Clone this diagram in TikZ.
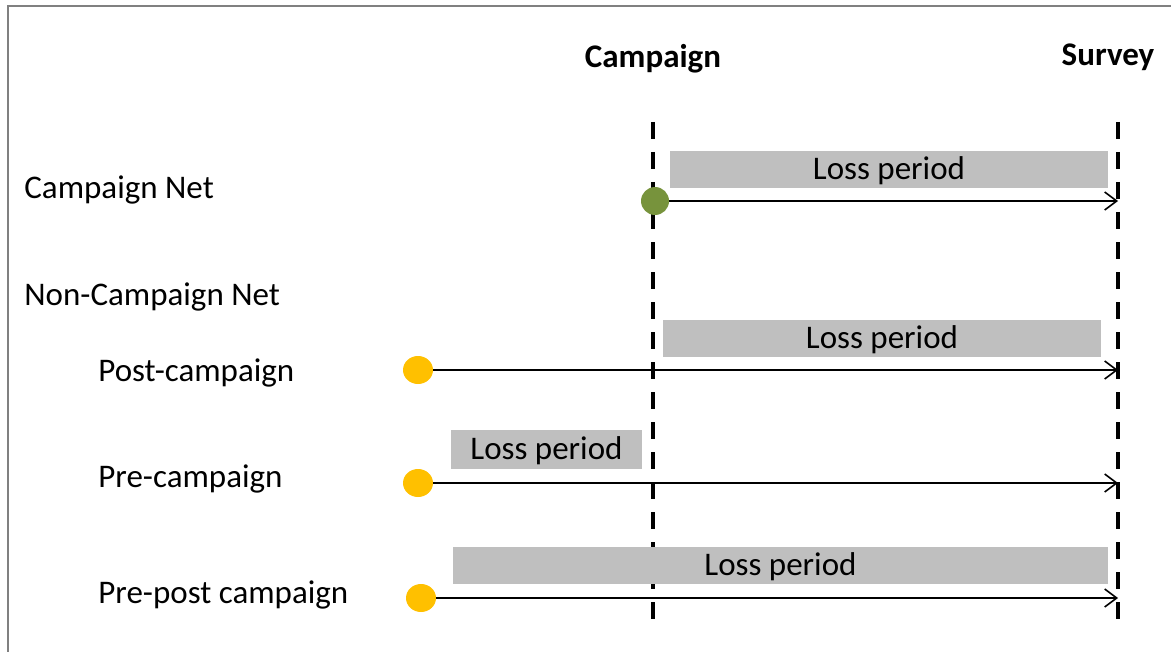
\documentclass[tikz,border=0pt]{standalone}
\usepackage{fontspec}
\setmainfont{Carlito}
\usetikzlibrary{arrows.meta,shapes.geometric}
\definecolor{netgreen}{HTML}{77933C}
\definecolor{netorange}{HTML}{FFC000}
\definecolor{lossgray}{HTML}{BFBFBF}
\begin{document}
\begin{tikzpicture}[x=0.5pt,y=-0.5pt]
  \tikzstyle{every node}=[font=\fontsize{16.5pt}{19pt}\selectfont,inner sep=0pt]
  \tikzstyle{heading}=[font=\fontsize{16.5pt}{19pt}\selectfont\bfseries]
  \tikzstyle{rowlabel}=[anchor=west]
  \tikzstyle{loss}=[fill=lossgray,minimum height=18.5pt,text depth=1pt]
  \tikzstyle{net}=[circle,minimum size=14pt]
  \tikzstyle{timeline}=[line width=1pt,-{Straight Barb[length=6pt,width=9pt,line width=0.8pt]}]
  \tikzstyle{marker}=[line width=2pt,dash pattern=on 8.5pt off 6.5pt]

  \useasboundingbox (0,0) rectangle (1171,652);
  \draw[gray,line width=1pt] (8,652) -- (8,6) -- (1171,6);

  % Headings and marker lines
  \node[heading] (campaign) at (653,59) {Campaign};
  \node[heading] (survey) at (1108,57) {Survey};
  \coordinate (camtop) at (653,122);
  \coordinate (cambot) at (653,628);
  \coordinate (survtop) at (1118,122);
  \coordinate (survbot) at (1118,628);
  \draw[marker] (camtop) -- (cambot);
  \draw[marker] (survtop) -- (survbot);

  % Row labels
  \node[rowlabel] (lblcamp) at (24,190) {Campaign Net};
  \node[rowlabel] (lblnon) at (24,297) {Non-Campaign Net};
  \node[rowlabel] (lblpost) at (98,373) {Post-campaign};
  \node[rowlabel] (lblpre) at (98,479) {Pre-campaign};
  \node[rowlabel] (lblprepost) at (98,595) {Pre-post campaign};

  % Loss periods
  \node[loss,minimum width=219pt] (loss1) at (889,169.5) {Loss period};
  \node[loss,minimum width=219pt] (loss2) at (882,338) {Loss period};
  \node[loss,minimum width=95.5pt,minimum height=19.5pt] (loss3) at (546.5,449.5) {Loss period};
  \node[loss,minimum width=327.5pt] (loss4) at (780.5,565) {Loss period};

  % Nets and timelines
  \node[net,fill=netgreen] (net1) at (655,201) {};
  \coordinate (end1) at (1118,201);
  \draw[timeline] (net1) -- (end1);
  \foreach \n/\x/\y in {2/418/370, 3/418/483, 4/421/598} {
    \node[ellipse,fill=netorange,minimum width=15pt,minimum height=14pt] (net\n) at (\x,\y) {};
    \coordinate (end\n) at (1118,\y);
    \draw[timeline] (net\n) -- (end\n);
  }
\end{tikzpicture}
\end{document}
